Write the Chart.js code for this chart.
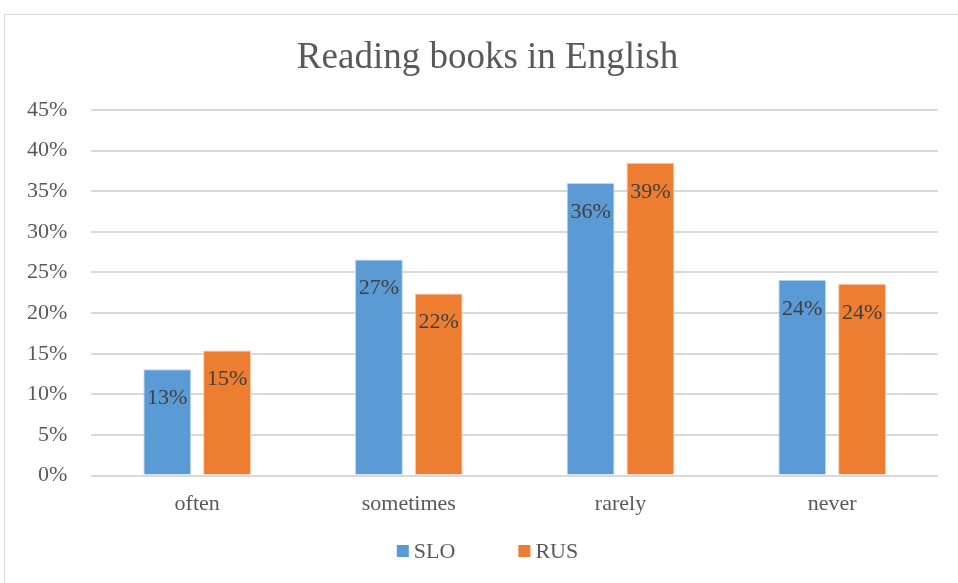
<!DOCTYPE html>
<html>
<head>
<meta charset="utf-8">
<script src="https://cdn.jsdelivr.net/npm/chart.js@4/dist/chart.umd.min.js"></script>
<style>
  html, body { margin: 0; padding: 0; background: #fff; overflow: hidden; }
  #frame {
    position: absolute; left: 4px; top: 14px;
    width: 990px; height: 600px;
    border: 1px solid #d9d9d9; box-sizing: border-box;
  }
  #wrap { position: absolute; left: 0; top: 0; width: 975px; height: 583px; }
</style>
</head>
<body>
<div id="frame"></div>
<div id="wrap"><canvas id="canvas"></canvas></div>
<script>
const categories = ["often", "sometimes", "rarely", "never"];
const sloValues = [13.1, 26.6, 36.0, 24.1];
const rusValues = [15.4, 22.4, 38.5, 23.6];
const yTicks = [0, 5, 10, 15, 20, 25, 30, 35, 40, 45];
const chartTitle = "Reading books in English";

const serif = "'Liberation Serif', 'Times New Roman', serif";
Chart.defaults.font.family = serif;

// title centred on the whole canvas, not just the padded area
const centredTitle = {
  id: "centredTitle",
  afterDraw(chart) {
    const ctx = chart.ctx;
    ctx.save();
    ctx.font = "37px " + serif;
    ctx.fillStyle = "#595959";
    ctx.textAlign = "center";
    ctx.textBaseline = "middle";
    ctx.fillText(chartTitle, chart.width / 2, 58);
    ctx.restore();
  }
};

// values written inside the top of each bar
const barLabels = {
  id: "barLabels",
  afterDatasetsDraw(chart) {
    const ctx = chart.ctx;
    ctx.save();
    ctx.font = "22px " + serif;
    ctx.fillStyle = "#404040";
    ctx.textAlign = "center";
    ctx.textBaseline = "middle";
    chart.data.datasets.forEach((ds, i) => {
      chart.getDatasetMeta(i).data.forEach((bar, j) => {
        ctx.fillText(Math.round(ds.data[j]) + "%", bar.x, bar.y + 29);
      });
    });
    ctx.restore();
  }
};

// small square-swatch legend under the axis labels
const bottomLegend = {
  id: "bottomLegend",
  afterDraw(chart) {
    const ctx = chart.ctx;
    const sets = chart.data.datasets;
    ctx.save();
    ctx.font = "22px " + serif;
    ctx.textBaseline = "middle";
    const box = 12, textGap = 5, itemGap = 63;
    const widths = sets.map((ds) => box + textGap + ctx.measureText(ds.label).width);
    const total = widths.reduce((a, b) => a + b, 0) + itemGap * (sets.length - 1);
    let x = chart.width / 2 - total / 2;
    const y = 551;
    sets.forEach((ds, i) => {
      ctx.fillStyle = ds.backgroundColor;
      ctx.fillRect(x, y - box / 2, box, box);
      ctx.fillStyle = "#595959";
      ctx.fillText(ds.label, x + box + textGap, y + 1);
      x += widths[i] + itemGap;
    });
    ctx.restore();
  }
};

drawChart();
function drawChart() {
  const ctx = document.getElementById("canvas").getContext("2d");
  new Chart(ctx, {
    type: "bar",
    data: {
      labels: categories,
      datasets: [
        {
          label: "SLO",
          data: sloValues,
          backgroundColor: "#5b9bd5",
          borderColor: "#bdd7ee",
          borderWidth: 1,
          categoryPercentage: 0.565,
          barPercentage: 0.8,
        },
        {
          label: "RUS",
          data: rusValues,
          backgroundColor: "#ed7d31",
          borderColor: "#f8cbad",
          borderWidth: 1,
          categoryPercentage: 0.565,
          barPercentage: 0.8,
        },
      ],
    },
    options: {
      responsive: true,
      maintainAspectRatio: false,
      animation: false,
      layout: { padding: { left: 3, right: 37, top: 110, bottom: 59 } },
      plugins: {
        title: { display: false },
        legend: { display: false },
        tooltip: { enabled: false },
      },
      scales: {
        x: {
          grid: { display: false },
          border: { display: false },
          ticks: { color: "#595959", font: { family: serif, size: 22 }, padding: 7 },
        },
        y: {
          min: 0,
          max: 45,
          afterBuildTicks: (axis) => { axis.ticks = yTicks.map((v) => ({ value: v })); },
          grid: { color: "#d9d9d9", lineWidth: 2, drawTicks: false },
          border: { display: false },
          ticks: {
            color: "#595959",
            font: { family: serif, size: 22 },
            padding: 24,
            callback: (v) => v + "%",
          },
        },
      },
    },
    plugins: [barLabels, bottomLegend, centredTitle],
  });
}
</script>
</body>
</html>
